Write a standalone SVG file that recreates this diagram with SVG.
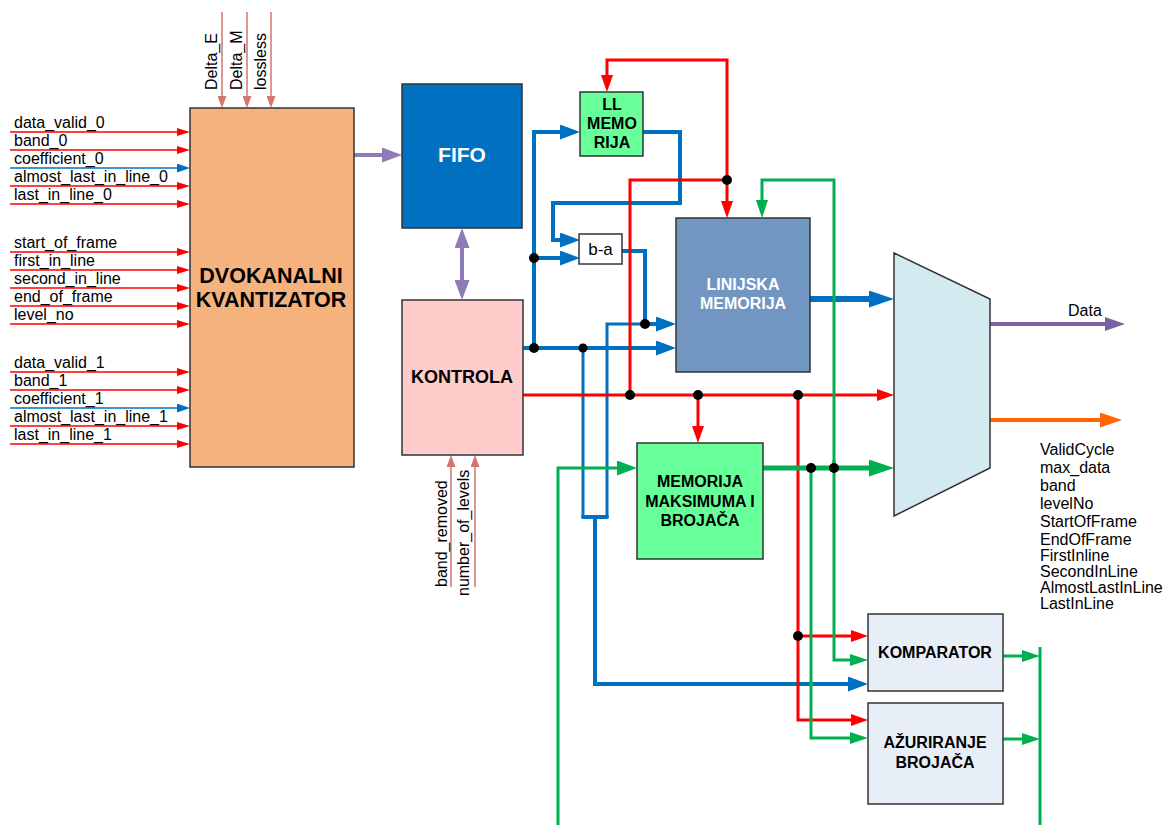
<svg xmlns="http://www.w3.org/2000/svg" width="1166" height="825" viewBox="0 0 1166 825">
<style>
text{font-family:"Liberation Sans",Arial,sans-serif;fill:#000}
.lbl{font-size:16px}
.b{font-weight:bold;font-size:16px;text-anchor:middle}
.box{stroke:#333;stroke-width:1.5}
.in{fill:none;stroke:#f00;stroke-width:1.5}
.inb{fill:none;stroke:#0070C0;stroke-width:1.5}
.sal{fill:none;stroke:#D4756E;stroke-width:1.5}
.bl{fill:none;stroke:#0070C0;stroke-width:4}
.rd{fill:none;stroke:#f00;stroke-width:3}
.gr{fill:none;stroke:#00B050;stroke-width:3}
</style>
<defs>
<marker id="mRs" markerWidth="13" markerHeight="8" refX="0" refY="4" orient="auto" markerUnits="userSpaceOnUse"><path d="M0,0L13,4L0,8z" fill="#f00"/></marker>
<marker id="mBs" markerWidth="13" markerHeight="9" refX="0" refY="4.5" orient="auto" markerUnits="userSpaceOnUse"><path d="M0,0L13,4.5L0,9z" fill="#0070C0"/></marker>
<marker id="mSal" markerWidth="12" markerHeight="9" refX="0" refY="4.5" orient="auto" markerUnits="userSpaceOnUse"><path d="M0,0L12,4.5L0,9z" fill="#D4756E"/></marker>
<marker id="mR" markerWidth="17" markerHeight="12" refX="0" refY="6" orient="auto" markerUnits="userSpaceOnUse"><path d="M0,0L17,6L0,12z" fill="#f00"/></marker>
<marker id="mB" markerWidth="20" markerHeight="15" refX="0" refY="7.5" orient="auto" markerUnits="userSpaceOnUse"><path d="M0,0L20,7.5L0,15z" fill="#0070C0"/></marker>
<marker id="mBL" markerWidth="25" markerHeight="17" refX="0" refY="8.5" orient="auto" markerUnits="userSpaceOnUse"><path d="M0,0L25,8.5L0,17z" fill="#0070C0"/></marker>
<marker id="mG" markerWidth="18" markerHeight="12" refX="0" refY="6" orient="auto" markerUnits="userSpaceOnUse"><path d="M0,0L18,6L0,12z" fill="#00B050"/></marker>
<marker id="mGm" markerWidth="20" markerHeight="15" refX="0" refY="7.5" orient="auto" markerUnits="userSpaceOnUse"><path d="M0,0L20,7.5L0,15z" fill="#00B050"/></marker>
<marker id="mGL" markerWidth="25" markerHeight="17" refX="0" refY="8.5" orient="auto" markerUnits="userSpaceOnUse"><path d="M0,0L25,8.5L0,17z" fill="#00B050"/></marker>
<marker id="mP" markerWidth="20" markerHeight="15" refX="0" refY="7.5" orient="auto-start-reverse" markerUnits="userSpaceOnUse"><path d="M0,0L20,7.5L0,15z" fill="#8E7CB6"/></marker>
<marker id="mPd" markerWidth="20" markerHeight="14" refX="0" refY="7" orient="auto" markerUnits="userSpaceOnUse"><path d="M0,0L20,7L0,14z" fill="#7B62A3"/></marker>
<marker id="mO" markerWidth="22" markerHeight="15" refX="0" refY="7.5" orient="auto" markerUnits="userSpaceOnUse"><path d="M0,0L22,7.5L0,15z" fill="#FF6600"/></marker>
</defs>
<rect width="1166" height="825" fill="#fff"/>

<g id="connectors">
<path class="in" marker-end="url(#mRs)" d="M10,132H177"/>
<path class="in" marker-end="url(#mRs)" d="M10,150H177"/>
<path class="in" marker-end="url(#mRs)" d="M10,186H177"/>
<path class="in" marker-end="url(#mRs)" d="M10,204H177"/>
<path class="in" marker-end="url(#mRs)" d="M10,252H177"/>
<path class="in" marker-end="url(#mRs)" d="M10,270H177"/>
<path class="in" marker-end="url(#mRs)" d="M10,288H177"/>
<path class="in" marker-end="url(#mRs)" d="M10,306H177"/>
<path class="in" marker-end="url(#mRs)" d="M10,324H177"/>
<path class="in" marker-end="url(#mRs)" d="M10,372H177"/>
<path class="in" marker-end="url(#mRs)" d="M10,390H177"/>
<path class="in" marker-end="url(#mRs)" d="M10,426H177"/>
<path class="in" marker-end="url(#mRs)" d="M10,444H177"/>
<path class="inb" marker-end="url(#mBs)" d="M10,168H177"/>
<path class="inb" marker-end="url(#mBs)" d="M10,408H177"/>
<path class="sal" marker-end="url(#mSal)" d="M222,12V96"/>
<path class="sal" marker-end="url(#mSal)" d="M247,12V96"/>
<path class="sal" marker-end="url(#mSal)" d="M271,12V96"/>
<path class="sal" marker-end="url(#mSal)" d="M451,587V467"/>
<path class="sal" marker-end="url(#mSal)" d="M475,587V467"/>
<path fill="none" stroke="#8E7CB6" stroke-width="4" marker-end="url(#mP)" d="M354,155H382"/>
<path fill="none" stroke="#8E7CB6" stroke-width="4" marker-start="url(#mP)" marker-end="url(#mP)" d="M462,248V280"/>
<path fill="none" stroke="#7B62A3" stroke-width="4" marker-end="url(#mPd)" d="M990,324H1105"/>
<path fill="none" stroke="#FF6600" stroke-width="4" marker-end="url(#mO)" d="M990,420H1100"/>
<path class="bl" marker-end="url(#mB)" d="M523,348H656"/>
<path class="bl" marker-end="url(#mB)" d="M534,348V132H560"/>
<path class="bl" marker-end="url(#mB)" d="M534,258H560"/>
<path class="bl" marker-end="url(#mB)" d="M643,132H680V203H553V240H560"/>
<path class="bl" marker-end="url(#mB)" d="M622,251H645V324H656"/>
<path fill="none" stroke="#0070C0" stroke-width="3" d="M645,324H607V517"/>
<path fill="none" stroke="#0070C0" stroke-width="3" d="M583,348V517"/>
<path class="bl" stroke-linecap="round" d="M583,517H607"/>
<path class="bl" marker-end="url(#mB)" d="M595,517V684H848"/>
<path fill="none" stroke="#0070C0" stroke-width="6" marker-end="url(#mBL)" d="M810,299H869"/>
<path class="rd" marker-end="url(#mR)" d="M523,395H877"/>
<path class="rd" marker-end="url(#mR)" d="M727,180V60H607V75"/>
<path class="rd" marker-end="url(#mR)" d="M727,180V201"/>
<path class="rd" d="M630,395V180H727"/>
<path class="rd" marker-end="url(#mR)" d="M698,395V426"/>
<path class="rd" marker-end="url(#mR)" d="M798,395V720H851"/>
<path class="rd" marker-end="url(#mR)" d="M798,636H851"/>
<path fill="none" stroke="#00B050" stroke-width="5" marker-end="url(#mGL)" d="M762,468H869"/>
<path class="gr" marker-end="url(#mGm)" d="M558,825V468H617"/>
<path class="gr" marker-end="url(#mG)" d="M834,468V180H762V200"/>
<path class="gr" marker-end="url(#mG)" d="M834,460V660H850"/>
<path class="gr" marker-end="url(#mG)" d="M811,468V738H850"/>
<path class="gr" marker-end="url(#mG)" d="M1003,656H1022"/>
<path class="gr" marker-end="url(#mG)" d="M1003,739H1022"/>
<path class="gr" d="M1040,647V825"/>
<g fill="#000">
<circle cx="534" cy="348" r="5"/>
<circle cx="583" cy="348" r="4.5"/>
<circle cx="534" cy="258" r="5"/>
<circle cx="645" cy="324" r="5"/>
<circle cx="727" cy="180" r="5"/>
<circle cx="630" cy="395" r="5"/>
<circle cx="698" cy="395" r="5"/>
<circle cx="798" cy="395" r="5"/>
<circle cx="811" cy="468" r="5"/>
<circle cx="834" cy="468" r="5"/>
<circle cx="798" cy="636" r="5"/>
</g>
</g>

<g id="input-labels">
<text class="lbl" x="14" y="128">data_valid_0</text>
<text class="lbl" x="14" y="146">band_0</text>
<text class="lbl" x="14" y="164">coefficient_0</text>
<text class="lbl" x="14" y="182">almost_last_in_line_0</text>
<text class="lbl" x="14" y="200">last_in_line_0</text>
<text class="lbl" x="14" y="248">start_of_frame</text>
<text class="lbl" x="14" y="266">first_in_line</text>
<text class="lbl" x="14" y="284">second_in_line</text>
<text class="lbl" x="14" y="302">end_of_frame</text>
<text class="lbl" x="14" y="320">level_no</text>
<text class="lbl" x="14" y="368">data_valid_1</text>
<text class="lbl" x="14" y="386">band_1</text>
<text class="lbl" x="14" y="404">coefficient_1</text>
<text class="lbl" x="14" y="422">almost_last_in_line_1</text>
<text class="lbl" x="14" y="440">last_in_line_1</text>
<text class="lbl" transform="translate(217,90) rotate(-90)">Delta_E</text>
<text class="lbl" transform="translate(242,90) rotate(-90)">Delta_M</text>
<text class="lbl" transform="translate(266,90) rotate(-90)">lossless</text>
<text class="lbl" transform="translate(447,587) rotate(-90)">band_removed</text>
<text class="lbl" transform="translate(469,596) rotate(-90)">number_of_levels</text>
</g>

<g id="kvantizator">
<rect class="box" x="190" y="108" width="164" height="359" fill="#F5B27D"/>
<text class="b" style="font-size:21.5px" x="271" y="283">DVOKANALNI</text>
<text class="b" style="font-size:21.5px" x="271" y="307">KVANTIZATOR</text>
</g>
<g id="fifo">
<rect class="box" x="402" y="84" width="120" height="144" fill="#0070C0"/>
<text class="b" style="font-size:21px;fill:#fff" x="462" y="162">FIFO</text>
</g>
<g id="kontrola">
<rect class="box" x="402" y="300" width="121" height="155" fill="#FFCCCC"/>
<text class="b" style="font-size:18px" x="462" y="383">KONTROLA</text>
</g>
<g id="ll-memorija">
<rect class="box" x="580" y="92" width="63" height="64" fill="#66FF99"/>
<text class="b" x="612" y="110">LL</text>
<text class="b" x="612" y="129">MEMO</text>
<text class="b" x="612" y="148">RIJA</text>
</g>
<g id="b-a">
<rect class="box" x="579" y="234" width="43" height="30" fill="#fff"/>
<text style="font-size:17px;text-anchor:middle" x="600.5" y="255">b-a</text>
</g>
<g id="linijska-memorija">
<rect class="box" x="676" y="218" width="134" height="154" fill="#7296C2"/>
<text class="b" style="fill:#fff" x="743" y="290">LINIJSKA</text>
<text class="b" style="fill:#fff" x="743" y="309">MEMORIJA</text>
</g>
<g id="memorija-maksimuma">
<rect class="box" x="637" y="443" width="126" height="116" fill="#66FF99"/>
<text class="b" x="700" y="487">MEMORIJA</text>
<text class="b" x="700" y="507">MAKSIMUMA I</text>
<text class="b" x="700" y="526">BROJAČA</text>
</g>
<g id="mux">
<polygon class="box" points="894,253 990,299 990,468 894,516" fill="#D2EAF0"/>
</g>
<g id="komparator">
<rect class="box" x="868" y="614" width="135" height="77" fill="#E8EEF8"/>
<text class="b" x="935" y="658">KOMPARATOR</text>
</g>
<g id="azuriranje">
<rect class="box" x="868" y="703" width="135" height="101" fill="#E8EEF8"/>
<text class="b" x="935" y="748">AŽURIRANJE</text>
<text class="b" x="935" y="768">BROJAČA</text>
</g>
<g id="output-labels">
<text class="lbl" x="1068" y="316">Data</text>
<text class="lbl" x="1040" y="455">ValidCycle</text>
<text class="lbl" x="1040" y="473">max_data</text>
<text class="lbl" x="1040" y="491">band</text>
<text class="lbl" x="1040" y="509">levelNo</text>
<text class="lbl" x="1040" y="527">StartOfFrame</text>
<text class="lbl" x="1040" y="545">EndOfFrame</text>
<text class="lbl" x="1040" y="561">FirstInline</text>
<text class="lbl" x="1040" y="577">SecondInLine</text>
<text class="lbl" x="1040" y="593">AlmostLastInLine</text>
<text class="lbl" x="1040" y="609">LastInLine</text>
</g>
</svg>
